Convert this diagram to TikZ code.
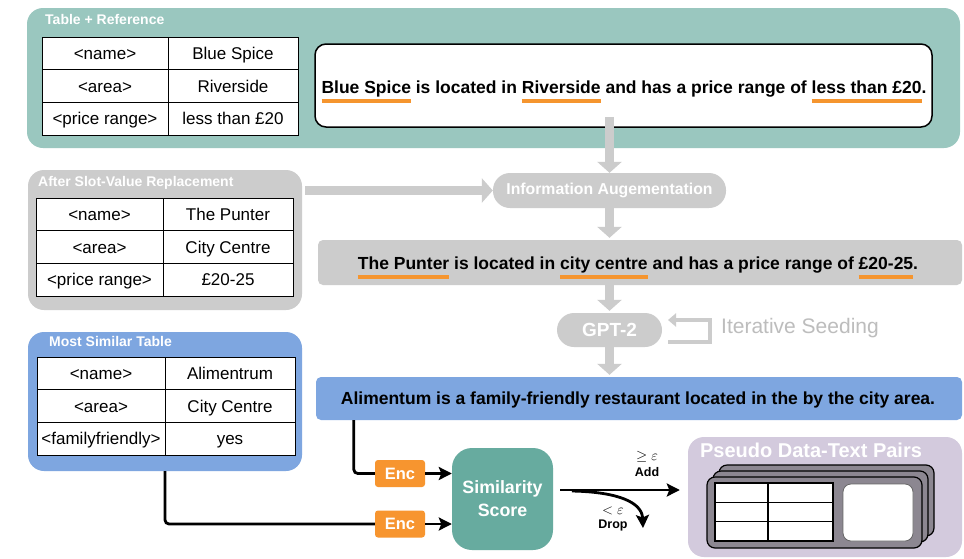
\documentclass[tikz,border=0pt]{standalone}
\usepackage{fontspec}
\setmainfont{Liberation Sans}
\usetikzlibrary{arrows.meta,calc}

\definecolor{panelteal}{HTML}{9AC7BF}
\definecolor{scoreteal}{HTML}{67AB9F}
\definecolor{flowgray}{HTML}{CCCCCC}
\definecolor{seedgray}{HTML}{BDBDBD}
\definecolor{flowblue}{HTML}{7EA6E0}
\definecolor{encorange}{HTML}{F7952F}
\definecolor{ulorange}{HTML}{F5952F}
\definecolor{pairpurple}{HTML}{D3CADD}
\definecolor{carddark}{HTML}{8C8791}

% orange underline under a slot value
\newsavebox\ulbox
\newcommand\orul[1]{\sbox\ulbox{#1}\rlap{\smash{\color{ulorange}\raisebox{-9.3pt}{\rule{\wd\ulbox}{3.2pt}}}}\usebox\ulbox}

\newcommand\tablefont{\fontsize{17}{20}\selectfont}
\newcommand\sentfont{\fontsize{17.5}{20}\selectfont\bfseries}
\newcommand\labelfont{\fontsize{14}{16}\selectfont\bfseries}
\def\rowh{32.7}

% key/value table: prefix, left x, divider x, right x, top y, rows
\newcommand\kvtable[6]{%
  \foreach \k/\v [count=\i] in {#6}{
    \node[kcell, minimum width={#3-#2}] (#1k\i) at ({(#2+#3)/2},{#5+\rowh*(\i-0.5)}) {\k};
    \node[kcell, minimum width={#4-#3}] (#1v\i) at ({(#3+#4)/2},{#5+\rowh*(\i-0.5)}) {\v};
  }}

\begin{document}
\begin{tikzpicture}[x=1pt,y=-1pt,
  panel/.style={draw=none, rounded corners=16pt, inner sep=0pt},
  kcell/.style={draw=black, line width=0.9pt, fill=white, inner sep=0pt,
    minimum height=\rowh pt, text height=12.2pt, text depth=0pt, font=\tablefont},
  paneltitle/.style={anchor=west, inner sep=0pt, text=white, font=\labelfont},
  pill/.style={fill=flowgray, rounded corners=17pt, inner sep=0pt, text=white},
  grayarrow/.style={draw=flowgray, line width=9pt, -{Triangle[width=24pt,length=11pt,fill=flowgray]}},
  conn/.style={draw=black, line width=2.8pt, rounded corners=4pt},
  tip/.style={-{Stealth[length=13pt,width=13pt,inset=2.5pt]}},
  encbox/.style={fill=encorange, rounded corners=3pt, minimum width=50pt, minimum height=27pt,
    inner sep=0pt, text=white, font=\fontsize{16.5}{18}\selectfont\bfseries},
  card/.style={draw=black, line width=1.2pt, fill=carddark, rounded corners=8pt}]

\useasboundingbox[fill=white] (0,0) rectangle (964,558);

% ---- table + reference ----
\node[panel, fill=panelteal, minimum width=933pt, minimum height=140pt] (toppanel) at (493.5,78) {};
\node[paneltitle] (toptitle) at (45,19) {Table + Reference};
\kvtable{ta}{42}{168}{298}{37}{{<name>}/{Blue Spice},{<area>}/{Riverside},{<price range>}/{less than £20}}
\node[draw=black, line width=1.5pt, fill=white, rounded corners=11pt, minimum width=617pt,
  minimum height=83pt, inner sep=0pt] (refbox) at (623.5,85.5) {};
\node[anchor=base, inner sep=0pt, font=\sentfont] (refsent) at (624,93.3)
  {\orul{Blue Spice} is located in \orul{Riverside} and has a price range of \orul{less than £20}.};

% ---- slot-value replacement ----
\node[panel, fill=flowgray, minimum width=274pt, minimum height=140pt] (graypanel) at (165,240) {};
\node[paneltitle] (graytitle) at (38,183) {After Slot-Value Replacement};
\kvtable{tb}{36}{163}{293}{198}{{<name>}/{The Punter},{<area>}/{City Centre},{<price range>}/{£20-25}}

\node[pill, minimum width=233pt, minimum height=35pt, font=\fontsize{15.8}{18}\selectfont\bfseries]
  (info) at (609.5,190.5) {Information Augementation};
\node[fill=flowgray, rounded corners=5pt, minimum width=644pt, minimum height=45pt, inner sep=0pt]
  (graybar) at (640,262.5) {};
\node[anchor=base, inner sep=0pt, font=\sentfont] (graysent) at (638,269.3)
  {\orul{The Punter} is located in \orul{city centre} and has a price range of \orul{£20-25}.};

\node[pill, minimum width=105pt, minimum height=34pt, font=\fontsize{19}{21}\selectfont\bfseries]
  (gpt) at (609.5,330) {GPT-2};
\coordinate (seedA) at (668,342);
\coordinate (seedB) at (710,342);
\coordinate (seedC) at (710,320);
\coordinate (seedD) at (668,320);
\draw[draw=flowgray, line width=3.5pt, -{Triangle[width=13pt,length=8pt,fill=flowgray]}]
  (seedA) -- (seedB) -- (seedC) -- (seedD);
\node[anchor=west, inner sep=0pt, text=seedgray, font=\fontsize{21}{24}\selectfont] (seedtext)
  at (721,328) {Iterative Seeding};

% ---- generated text and most similar table ----
\node[fill=flowblue, rounded corners=5pt, minimum width=646pt, minimum height=43pt, inner sep=0pt]
  (bluebar) at (639,398.5) {};
\node[anchor=base, inner sep=0pt, font=\sentfont] (bluesent) at (638,404.3)
  {Alimentum is a family-friendly restaurant located in the by the city area.};

\node[panel, fill=flowblue, minimum width=274pt, minimum height=139pt] (bluepanel) at (165,401.5) {};
\node[paneltitle] (bluetitle) at (49,341) {Most Similar Table};
\kvtable{tc}{37}{165}{295}{357}{{<name>}/{Alimentrum},{<area>}/{City Centre},{<familyfriendly>}/{yes}}

% ---- gray flow arrows ----
\draw[grayarrow] ([yshift=11pt]refbox.south -| info.north) -- (info.north);
\draw[grayarrow, shorten >=2pt] (info.south) -- (graybar.north -| info.south);
\draw[grayarrow, shorten >=2pt] (graybar.south -| gpt.north) -- (gpt.north);
\draw[grayarrow, shorten >=2pt] (gpt.south) -- (bluebar.north -| gpt.south);
\draw[grayarrow, shorten <=3pt] (graypanel.east |- info.west) -- (info.west);

% ---- encoders and similarity ----
\node[encbox] (enc1) at (400,473.5) {Enc};
\node[encbox] (enc2) at (400,524) {Enc};
\node[fill=scoreteal, rounded corners=20pt, minimum width=101pt, minimum height=102pt, inner sep=0pt,
  text=white, align=center, font=\fontsize{17.8}{23}\selectfont\bfseries] (score) at (502.5,499)
  {Similarity\\Score};

\draw[conn] ([xshift=38pt]bluebar.south west) |- (enc1.west);
\draw[conn, tip] (enc1.east) -- (score.west |- enc1.east);
\draw[conn] (bluepanel.south) |- (enc2.west);
\draw[conn, tip] (enc2.east) -- (score.west |- enc2.east);

% ---- pseudo pairs ----
\node[panel, fill=pairpurple, minimum width=274pt, minimum height=120pt] (pairs) at (825,497) {};
\node[inner sep=0pt, text=white, font=\fontsize{20}{22}\selectfont\bfseries] (pairtitle)
  at (811,450) {Pseudo Data-Text Pairs};
\draw[card] (719,465) rectangle (934,536);
\draw[card] (713,471) rectangle (928,542);
\draw[card] (707,477) rectangle (922,548);
\draw[fill=white, draw=black, line width=1.1pt] (715,483) rectangle (833,541);
\draw[black, line width=1.1pt] (768,483) -- (768,541) (715,502.3) -- (833,502.3) (715,521.7) -- (833,521.7);
\draw[fill=white, draw=black!60, line width=0.8pt, rounded corners=8pt] (843,484) rectangle (913,541);

% ---- add / drop ----
\coordinate (addS) at (560,490);
\coordinate (dropS) at (572,491);
\coordinate (dropE) at (643,528);
\draw[conn, tip, shorten >=8pt] (addS) -- (pairs.west |- addS);
\draw[conn, tip] (dropS) .. controls (620,492) and (642,503) .. (dropE);
\node[inner sep=0pt, font=\fontsize{15}{17}\selectfont] (geq) at (647,457) {$\geq\varepsilon$};
\node[inner sep=0pt, font=\fontsize{12.5}{14}\selectfont\bfseries] (addlbl) at (647,472) {Add};
\node[inner sep=0pt, font=\fontsize{15}{17}\selectfont] (lt) at (613,511) {$<\varepsilon$};
\node[inner sep=0pt, font=\fontsize{12.5}{14}\selectfont\bfseries] (droplbl) at (613,525) {Drop};

\end{tikzpicture}
\end{document}
